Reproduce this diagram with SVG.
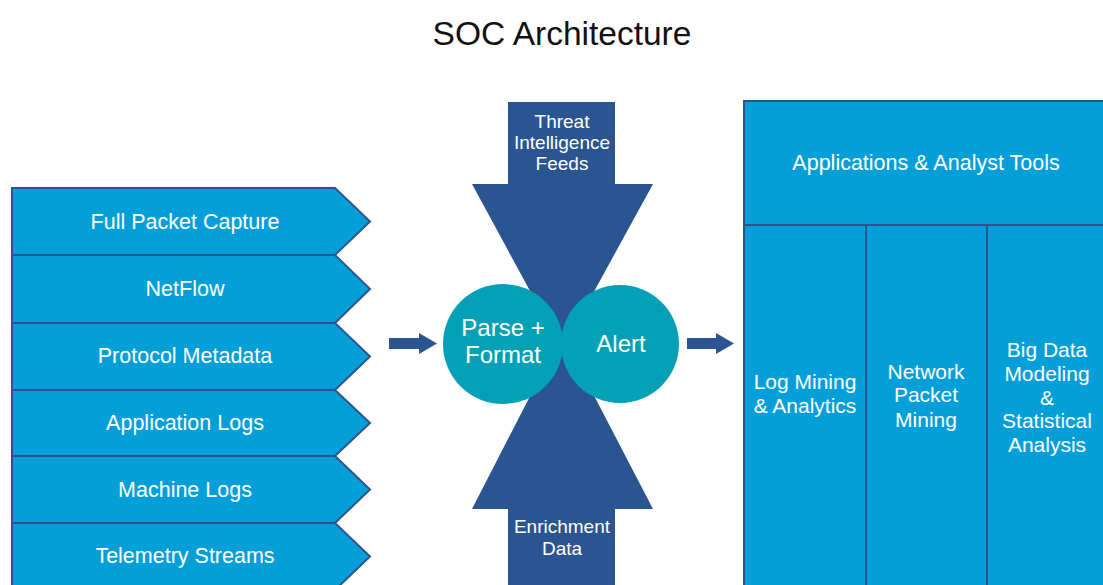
<svg xmlns="http://www.w3.org/2000/svg" width="1103" height="585" viewBox="0 0 1103 585">
<style>
.box{fill:#049FD9;stroke:#2B5591;stroke-width:2}
.dark{fill:#2B5591}
.circ{fill:#03A0B6}
text{font-family:"Liberation Sans",Arial,sans-serif;fill:#fff;text-anchor:middle}
.t20{font-size:21.5px}
.t19{font-size:19px}
.t24{font-size:24px}
.t21{font-size:21px}
</style>
<rect width="1103" height="585" fill="#fff"/>
<text x="562" y="45" style="font-size:33.5px;fill:#111">SOC Architecture</text>

<g id="sources">
<g id="src1"><path class="box" d="M12 188 H335 L370 221.5 L335 255 H12 Z"/><text class="t20" x="185" y="229">Full Packet Capture</text></g>
<g id="src2"><path class="box" d="M12 255 H335 L370 289 L335 323 H12 Z"/><text class="t20" x="185" y="296">NetFlow</text></g>
<g id="src3"><path class="box" d="M12 323 H335 L370 356.5 L335 390 H12 Z"/><text class="t20" x="185" y="363">Protocol Metadata</text></g>
<g id="src4"><path class="box" d="M12 390 H335 L370 423 L335 456 H12 Z"/><text class="t20" x="185" y="430">Application Logs</text></g>
<g id="src5"><path class="box" d="M12 456 H335 L370 489.5 L335 523 H12 Z"/><text class="t20" x="185" y="497">Machine Logs</text></g>
<g id="src6"><path class="box" d="M12 523 H335 L370 556.5 L335 590 H12 Z"/><text class="t20" x="185" y="563">Telemetry Streams</text></g>
</g>

<g id="threat-intel">
<path class="dark" d="M508 102 H615 V184 H653 L562 350 L472 184 H508 Z"/>
<text class="t19" x="562" y="128">Threat</text>
<text class="t19" x="562" y="149">Intelligence</text>
<text class="t19" x="562" y="170">Feeds</text>
</g>
<g id="enrichment">
<path class="dark" d="M508 590 H615 V509 H653 L562 334 L472 509 H508 Z"/>
<text class="t19" x="562" y="533">Enrichment</text>
<text class="t19" x="562" y="555">Data</text>
</g>

<g id="connectors">
<path class="dark" d="M389 338 H419 V333 L437 343.5 L419 354 V349 H389 Z"/>
<path class="dark" d="M687 338 H716 V333 L734 343.5 L716 354 V349 H687 Z"/>
</g>

<g id="parse">
<circle class="circ" cx="503" cy="344" r="60"/>
<text class="t24" x="503" y="336">Parse +</text>
<text class="t24" x="503" y="363">Format</text>
</g>
<g id="alert">
<circle class="circ" cx="620" cy="344" r="59"/>
<text class="t24" x="621" y="352">Alert</text>
</g>

<g id="tools">
<rect class="box" x="744" y="101" width="366" height="124"/>
<text class="t20" x="926" y="170">Applications &amp; Analyst Tools</text>
</g>
<g id="log-mining">
<rect class="box" x="744" y="225" width="122" height="370"/>
<text class="t21" x="805" y="389">Log Mining</text>
<text class="t21" x="805" y="413">&amp; Analytics</text>
</g>
<g id="packet-mining">
<rect class="box" x="866" y="225" width="121" height="370"/>
<text class="t21" x="926" y="379">Network</text>
<text class="t21" x="926" y="402">Packet</text>
<text class="t21" x="926" y="427">Mining</text>
</g>
<g id="big-data">
<rect class="box" x="987" y="225" width="123" height="370"/>
<text class="t21" x="1047" y="357">Big Data</text>
<text class="t21" x="1047" y="381">Modeling</text>
<text class="t21" x="1047" y="405">&amp;</text>
<text class="t21" x="1047" y="428">Statistical</text>
<text class="t21" x="1047" y="452">Analysis</text>
</g>
</svg>
